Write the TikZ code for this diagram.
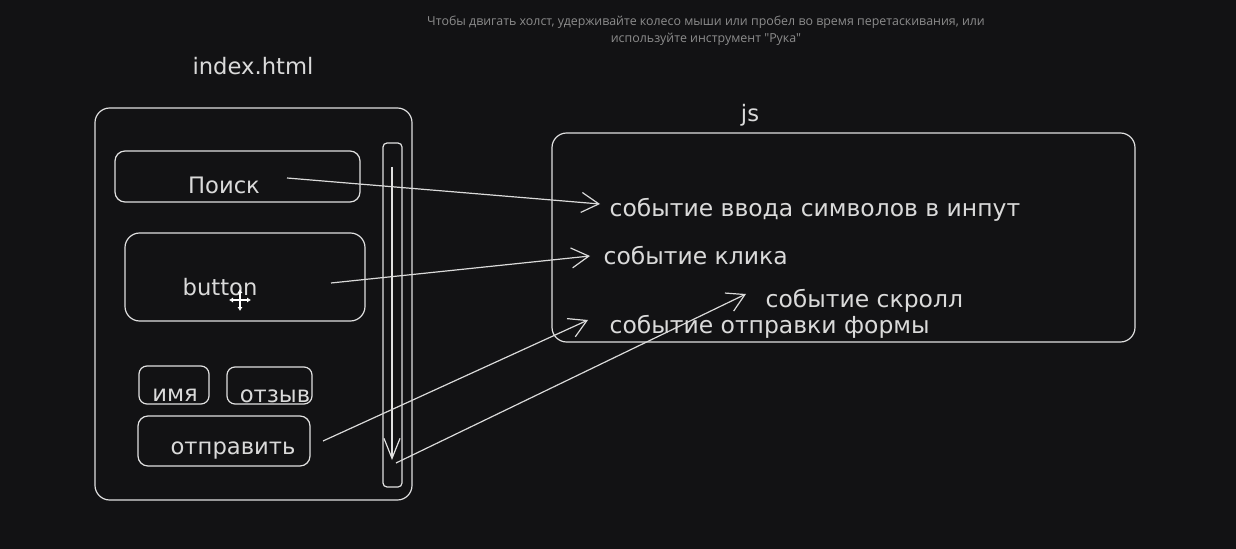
\documentclass[tikz,border=0pt]{standalone}
\usepackage{fontspec}
\setmainfont{DejaVu Sans}
\newfontfamily\hintfont{Open Sans}
\usetikzlibrary{arrows.meta}
\definecolor{canvas}{HTML}{121214}
\definecolor{ink}{HTML}{DADADA}
\definecolor{hintgray}{HTML}{8C8C8C}
\begin{document}
\begin{tikzpicture}[x=0.75pt,y=-0.75pt]
\fill[canvas] (0,0) rectangle (1236,549);
\useasboundingbox (0,0) rectangle (1236,549);
\tikzstyle{hand}=[text=ink,font=\fontsize{17}{20}\selectfont,inner sep=1pt]
\tikzstyle{event}=[hand,anchor=west,font=\fontsize{17.6}{20}\selectfont]
\tikzstyle{frame}=[draw=ink!80,line width=0.9pt,rounded corners=11pt]
\tikzstyle{link}=[draw=ink,line width=0.9pt,-{Straight Barb[length=13pt,width=15pt]}]
% hint of the editor
\node[text=hintgray,font=\hintfont\fontsize{9.3}{13}\selectfont,align=center] (hint) at (706,31)
{Чтобы двигать холст, удерживайте колесо мыши или пробел во время перетаскивания, или\\используйте инструмент "Рука"};
% page
\node[hand] (page) at (253,66) {index.html};
\draw[frame] (95,108) rectangle (412,500);
\draw[frame,rounded corners=7.5pt] (115,151) rectangle (360,202);
\node[hand] (search) at (224,185) {Поиск};
\draw[frame] (125,233) rectangle (365,321);
\node[hand] (btn) at (220,287) {button};
\draw[frame,rounded corners=6pt] (139,366) rectangle (209,404);
\node[hand] (name) at (175,395) {имя};
\draw[frame,rounded corners=6pt] (227,367) rectangle (312,404);
\node[hand] (review) at (275,396) {отзыв};
\draw[frame,rounded corners=7.5pt] (138,416) rectangle (310,466);
\node[hand] (send) at (233,451) {отправить};
% scrollbar
\draw[frame,rounded corners=3pt] (383,143) rectangle (402,487);
\coordinate (scrolltop) at (392,167);
\coordinate (scrollend) at (392,460);
\draw[ink!85,line width=0.9pt,-{Straight Barb[length=15pt,width=12pt]}] (scrolltop) -- (scrollend);
% js
\node[hand] (js) at (750,115) {js};
\draw[frame] (552,133) rectangle (1135,342);
\node[event] (evinput) at (608,210) {событие ввода символов в инпут};
\node[event] (evclick) at (602,256) {событие клика};
\node[event] (evscroll) at (764,301) {событие скролл};
\node[event] (evsubmit) at (608,327) {событие отправки формы};
% links
\coordinate (searchtail) at (287,178);
\coordinate (btntail) at (331,283);
\coordinate (sendtail) at (323,441);
\coordinate (scrolltail) at (396,463);
\draw[link] (searchtail) -- ([shift={(-8,-6)}]evinput.west);
\draw[link] (btntail) -- ([shift={(-12,0)}]evclick.west);
\draw[link] (sendtail) -- ([shift={(-20,-7)}]evsubmit.west);
\draw[link] (scrolltail) -- ([shift={(-18,-7)}]evscroll.west);
% cursor
\coordinate (cursor) at (240,300);
\draw[white,line width=1.2pt,{Latex[length=3pt,width=4pt]}-{Latex[length=3pt,width=4pt]}] ([shift={(-11,0)}]cursor) -- ([shift={(11,0)}]cursor);
\draw[white,line width=1.2pt,{Latex[length=3pt,width=4pt]}-{Latex[length=3pt,width=4pt]}] ([shift={(0,-11)}]cursor) -- ([shift={(0,11)}]cursor);
\end{tikzpicture}
\end{document}
